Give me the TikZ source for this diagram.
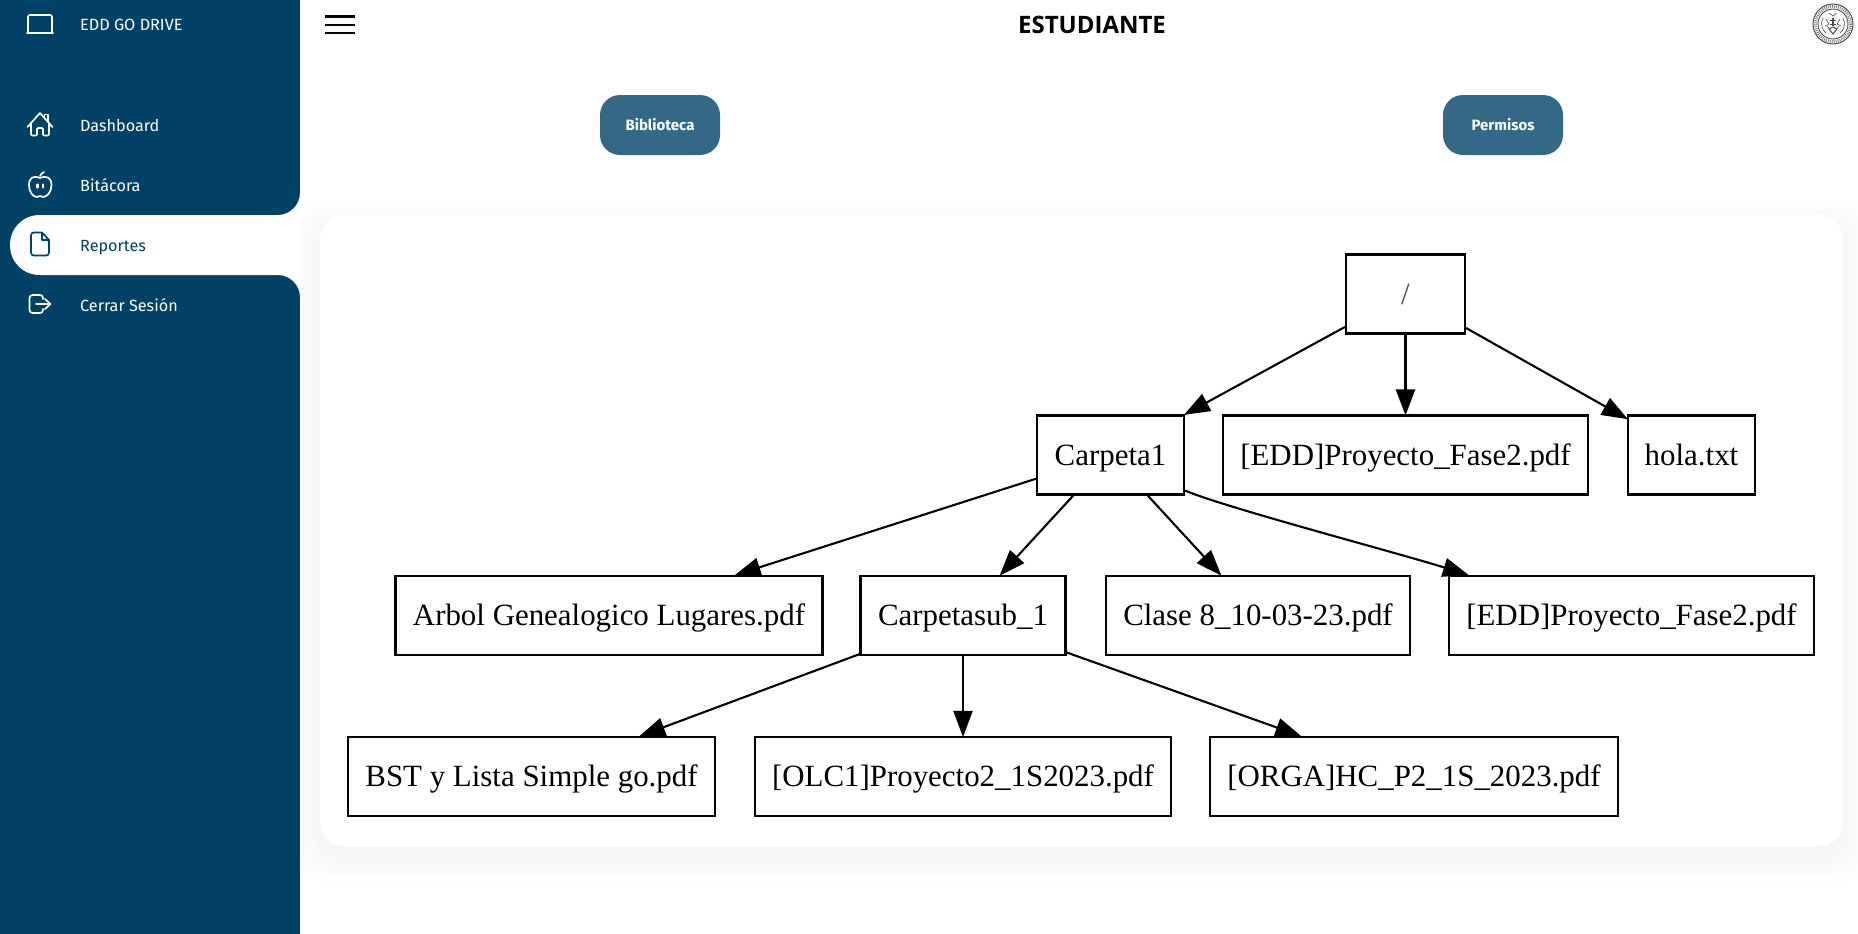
\documentclass[tikz,border=0pt]{standalone}
\usepackage{fontspec}
\setmainfont{Fira Sans}
\newfontfamily\graphfont{Liberation Serif}
\newfontfamily\titlefont{Open Sans}
\usetikzlibrary{arrows.meta,calc}
\definecolor{navy}{HTML}{004165}
\definecolor{btn}{HTML}{336887}
\tikzset{
  navlabel/.style={anchor=west,inner sep=0pt,text height=12pt,text depth=0pt,font=\fontsize{16.2}{18}\selectfont},
  btnnode/.style={fill=btn,text=white,rounded corners=20pt,minimum width=120pt,minimum height=60pt,inner sep=0pt,text height=11pt,text depth=0pt,font=\fontsize{15}{16}\bfseries\selectfont},
  gbox/.style={draw=black,line width=2.1pt,fill=white,inner sep=0pt,minimum height=79pt,text=black,text height=25pt,text depth=5pt,font=\graphfont\fontsize{30.9}{34}\selectfont},
  gedge/.style={draw=black,line width=2.1pt,-{Triangle[length=26pt,width=19pt]},shorten >=-1pt},
  iconw/.style={draw=white,line width=1.7pt,line cap=round,line join=round},
  iconb/.style={draw=navy,line width=1.7pt,line cap=round,line join=round},
  seal/.style={draw=black!70,line width=0.6pt}
}
\begin{document}
\begin{tikzpicture}[x=1pt,y=-1pt]
\useasboundingbox (0,0) rectangle (1858,934);
\fill[white] (0,0) rectangle (1858,934);
% panel shadow
\foreach \s in {2,5,8,11,14,17,20,23,26}{
  \fill[black,opacity=.0045,rounded corners=28pt] (320-\s,225-\s) rectangle (1843+\s,856+\s);
}
\fill[white,rounded corners=24pt] (320,215) rectangle (1843,846);
% sidebar
\fill[navy] (0,0) rectangle (300,934);
\fill[white] (300,193) .. controls (300,205) and (290,215) .. (278,215) -- (40,215)
  .. controls (23,215) and (10,228) .. (10,245) .. controls (10,262) and (23,275) .. (40,275)
  -- (278,275) .. controls (290,275) and (300,285) .. (300,297) -- cycle;
% icons
\draw[iconw,rounded corners=1.5pt] (28,32) -- (28,15) -- (52,15) -- (52,32);
\draw[iconw] (27,33) -- (53,33);
\draw[iconw] (27.5,127) -- (40,113) -- (52.5,127);
\draw[iconw] (44.5,117.5) -- (44.5,114.5) -- (48,114.5) -- (48,122);
\draw[iconw,rounded corners=1pt] (31,123) -- (31,135.5) -- (37,135.5) -- (37,128) -- (43,128) -- (43,135.5) -- (49,135.5) -- (49,123);
\draw[iconw] (40,178) .. controls (33,175) and (29,178) .. (29,185) .. controls (29,192) and (33,197) .. (37,197) .. controls (38.5,197) and (39,196) .. (40,196) .. controls (41,196) and (41.5,197) .. (43,197) .. controls (47,197) and (51.5,192) .. (51.5,185) .. controls (51.5,178) and (47,175) .. (40,178);
\draw[iconw] (40,176) .. controls (40.5,174.5) and (42,173) .. (44,172);
\draw[iconw,line width=2.2pt] (37.5,184.5) -- (37.5,187.5);
\draw[iconw,line width=2.2pt] (43,184.5) -- (43,187.5);
\draw[iconb] (42,232.5) -- (34,232.5) .. controls (32,232.5) and (31,233.5) .. (31,235.5) -- (31,252.5) .. controls (31,254.5) and (32,255.5) .. (34,255.5) -- (46,255.5) .. controls (48,255.5) and (49,254.5) .. (49,252.5) -- (49,240) -- (42,232.5) -- (42,240) -- (49,240);
\draw[iconw,rounded corners=3pt] (43,299) -- (43,295) -- (29.5,295) -- (29.5,313) -- (43,313) -- (43,309);
\draw[iconw] (36,304) -- (50.5,304);
\draw[iconw] (45,299) -- (50.5,304) -- (45,309);
% sidebar labels
\node[navlabel,text=white] (brand) at (80,25) {EDD GO DRIVE};
\node[navlabel,text=white] (dash) at (80,125) {Dashboard};
\node[navlabel,text=white] (bita) at (80,185) {Bitácora};
\node[navlabel,text=navy] (repo) at (80,245) {Reportes};
\node[navlabel,text=white] (cerrar) at (80,305) {Cerrar Sesión};
% top bar
\draw[black,line width=2.6pt] (325,16.5) -- (355,16.5);
\draw[black,line width=2.6pt] (325,25) -- (355,25);
\draw[black,line width=2.6pt] (325,33) -- (355,33);
\node[inner sep=0pt,text=black,font=\titlefont\fontsize{24}{26}\bfseries\selectfont] (title) at (1092,25) {ESTUDIANTE};
% seal
\draw[seal,line width=1pt] (1833,24) circle[radius=20];
\draw[seal,line width=2.8pt,dash pattern=on .8pt off 1.2pt,draw=black!55] (1833,24) circle[radius=17.6];
\draw[seal,line width=.9pt] (1833,24) circle[radius=15];
\draw[seal] (1829,13) -- (1833,16) -- (1837,13);
\draw[seal,line width=1.4pt] (1833,18) -- (1833,26);
\draw[seal] (1830,20) -- (1836,20);
\draw[seal] (1830,24) -- (1836,24);
\draw[seal] (1823,18) .. controls (1820,24) and (1822,30) .. (1826,33);
\draw[seal] (1843,18) .. controls (1846,24) and (1844,30) .. (1840,33);
\draw[seal] (1826,19) -- (1829,24) -- (1825,26);
\draw[seal] (1840,19) -- (1837,24) -- (1841,26);
\draw[seal,line width=1pt] (1829,29) -- (1833,34) -- (1837,29) -- (1833,27) -- cycle;
\draw[seal] (1827,26) -- (1830,30);
\draw[seal] (1839,26) -- (1836,30);
% buttons
\node[btnnode] (bib) at (660,125) {Biblioteca};
\node[btnnode] (perm) at (1503,125) {Permisos};
% graph
\node[gbox,minimum width=119pt,text=black!70] (root) at (1405.5,294) {/};
\node[gbox,minimum width=147pt] (c1) at (1110.5,455) {Carpeta1};
\node[gbox,minimum width=365pt] (edd1) at (1405.5,455) {[EDD]Proyecto\_Fase2.pdf};
\node[gbox,minimum width=127pt] (hola) at (1691.5,455) {hola.txt};
\node[gbox,minimum width=427pt] (arbol) at (609,615.5) {Arbol Genealogico Lugares.pdf};
\node[gbox,minimum width=205pt] (sub) at (963,615.5) {Carpetasub\_1};
\node[gbox,minimum width=304pt] (clase) at (1258,615.5) {Clase 8\_10-03-23.pdf};
\node[gbox,minimum width=365pt] (edd2) at (1631.5,615.5) {[EDD]Proyecto\_Fase2.pdf};
\node[gbox,minimum width=367pt] (bst) at (531.5,776.5) {BST y Lista Simple go.pdf};
\node[gbox,minimum width=416pt] (olc) at (963,776.5) {[OLC1]Proyecto2\_1S2023.pdf};
\node[gbox,minimum width=408pt] (orga) at (1414,776.5) {[ORGA]HC\_P2\_1S\_2023.pdf};
\draw[gedge] (root) -- (c1);
\draw[gedge] (root) -- (edd1);
\draw[gedge] (root) -- (hola);
\draw[gedge] (c1) -- (arbol);
\draw[gedge] (c1) -- (sub);
\draw[gedge] (c1) -- (clase);
\draw[gedge] ([yshift=5pt]c1.south east) .. controls +(40pt,-17pt) and +(-70pt,22pt) .. ([xshift=20pt]edd2.north west);
\draw[gedge] (sub) -- (bst);
\draw[gedge] (sub) -- (olc);
\draw[gedge] (sub) -- (orga);
\end{tikzpicture}
\end{document}
